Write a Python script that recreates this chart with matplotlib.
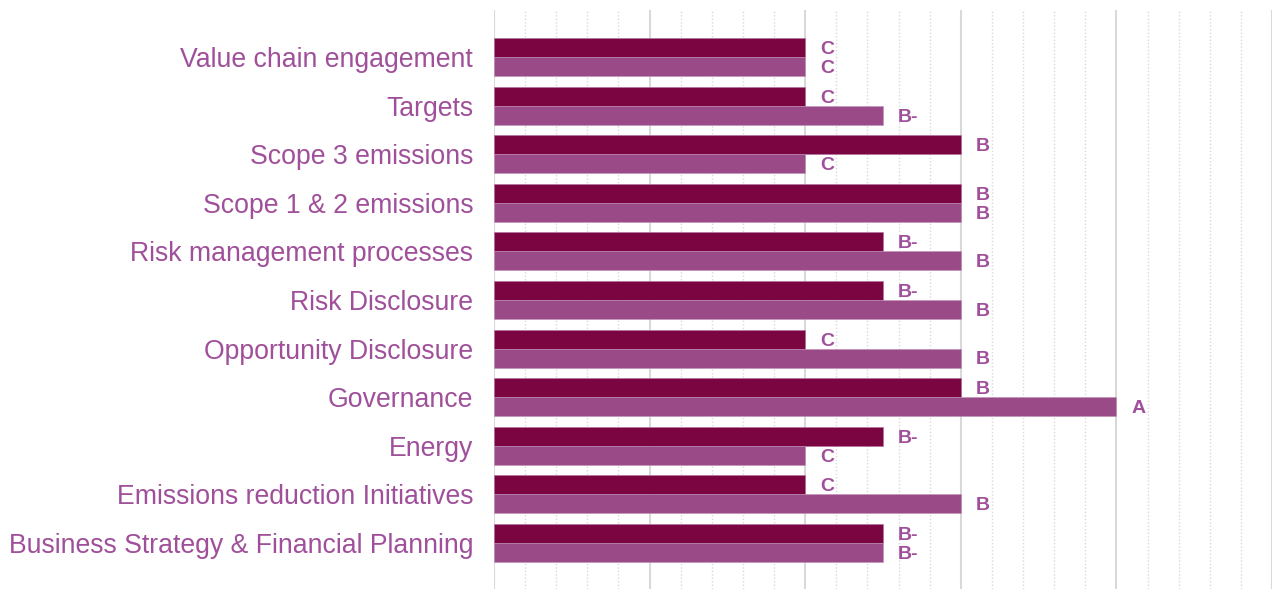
import matplotlib
matplotlib.use("Agg")
import matplotlib.pyplot as plt
import numpy as np
from matplotlib.ticker import MultipleLocator

categories = [
    "Value chain engagement",
    "Targets",
    "Scope 3 emissions",
    "Scope 1 & 2 emissions",
    "Risk management processes",
    "Risk Disclosure",
    "Opportunity Disclosure",
    "Governance",
    "Energy",
    "Emissions reduction Initiatives",
    "Business Strategy & Financial Planning",
]
grade_values = {"C": 2.0, "B-": 2.5, "B": 3.0, "A": 4.0}
series_1 = ["C", "C", "B", "B", "B-", "B-", "C", "B", "B-", "C", "B-"]
series_2 = ["C", "B-", "C", "B", "B", "B", "B", "A", "C", "B", "B-"]

c_dark = "#7A0540"
c_light = "#9A4A86"
c_text = "#A0509A"

plt.rcParams['font.family'] = ['Liberation Sans', 'DejaVu Sans']

fig = plt.figure(figsize=(12.8, 5.89), dpi=100)
ax = fig.add_axes([494/1280, 0.0, (1272-494)/1280, 1 - 10/589])

n = len(categories)
ypos = np.arange(n)[::-1]
h = 0.39
v1 = [grade_values[g] for g in series_1]
v2 = [grade_values[g] for g in series_2]

ax.barh(ypos + h/2, v1, height=h, color=c_dark, edgecolor="#B070A0", linewidth=0.4, zorder=3)
ax.barh(ypos - h/2, v2, height=h, color=c_light, edgecolor="#C090B8", linewidth=0.4, zorder=3)

dy = -0.04
for y, v, g in zip(ypos + h/2, v1, series_1):
    ax.text(v + 0.095, y + dy, g, va="center", ha="left", color=c_text, fontsize=14, fontweight="bold")
for y, v, g in zip(ypos - h/2, v2, series_2):
    ax.text(v + 0.095, y + dy, g, va="center", ha="left", color=c_text, fontsize=14, fontweight="bold")

ax.set_xlim(0, 5)
ax.set_ylim(-0.95, n - 1 + 0.97)
ax.set_yticks(ypos)
ax.set_yticklabels(categories, fontsize=19.2, color=c_text)
ax.tick_params(axis="y", length=0, pad=15)
ax.tick_params(axis="x", length=0, labelbottom=False)

ax.xaxis.set_major_locator(MultipleLocator(1))
ax.xaxis.set_minor_locator(MultipleLocator(0.2))
ax.grid(axis="x", which="major", color="#D9D9D9", linewidth=1.5, zorder=0)
ax.grid(axis="x", which="minor", color="#D9D9D9", linewidth=1.0, linestyle=(0, (1, 1.5)), zorder=0)
ax.tick_params(axis="x", which="minor", length=0)
for s in ax.spines.values():
    s.set_visible(False)

fig.savefig("out.png", dpi=100, facecolor="white")
